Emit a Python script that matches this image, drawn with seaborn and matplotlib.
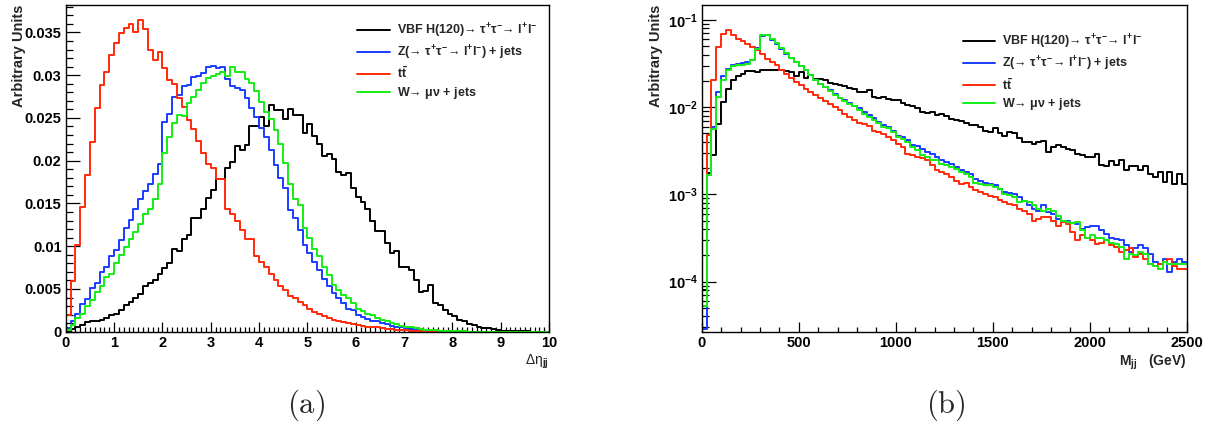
import numpy as np
import pandas as pd
import matplotlib
matplotlib.use('Agg')
import matplotlib.pyplot as plt
from matplotlib.lines import Line2D
from matplotlib.ticker import MultipleLocator, FuncFormatter, LogLocator, NullFormatter
import seaborn as sns

# ---- data (bin contents, arbitrary units) ----
# (a) delta eta_jj : 100 bins of 0.1 from 0 to 10
deta_range = (0, 10)
n_bins = 100

deta_vbf = [
    0.0001, 0.0003, 0.0006, 0.0008, 0.0011, 0.0012, 0.0013, 0.0014, 0.0016, 0.0019,
    0.0021, 0.0025, 0.0031, 0.0035, 0.0040, 0.0044, 0.0053, 0.0057, 0.0061, 0.0068,
    0.0075, 0.0080, 0.0097, 0.0094, 0.0108, 0.0113, 0.0133, 0.0133, 0.0143, 0.0156,
    0.0166, 0.0178, 0.0179, 0.0191, 0.0198, 0.0217, 0.0212, 0.0218, 0.0241, 0.0240,
    0.0251, 0.0241, 0.0265, 0.0259, 0.0259, 0.0249, 0.0261, 0.0253, 0.0253, 0.0232,
    0.0243, 0.0229, 0.0220, 0.0205, 0.0208, 0.0202, 0.0187, 0.0183, 0.0186, 0.0168,
    0.0158, 0.0152, 0.0143, 0.0130, 0.0118, 0.0118, 0.0104, 0.0092, 0.0094, 0.0076,
    0.0076, 0.0072, 0.0061, 0.0046, 0.0048, 0.0055, 0.0034, 0.0031, 0.0025, 0.0021,
    0.0018, 0.0014, 0.0012, 0.0009, 0.0008, 0.0005, 0.0004, 0.0004, 0.0003, 0.0002,
    0.0001, 0.0001, 0.00008, 0.00005, 0.00004, 0.00003, 0.00002, 0.00001, 0.0, 0.0,
]
deta_zjets = [
    0.0004, 0.0012, 0.0021, 0.0032, 0.0038, 0.0051, 0.0057, 0.0070, 0.0076, 0.0088,
    0.0096, 0.0107, 0.0121, 0.0131, 0.0144, 0.0155, 0.0165, 0.0173, 0.0184, 0.0196,
    0.0245, 0.0254, 0.0275, 0.0277, 0.0287, 0.0288, 0.0298, 0.0299, 0.0302, 0.0310,
    0.0311, 0.0308, 0.0310, 0.0296, 0.0287, 0.0285, 0.0283, 0.0273, 0.0262, 0.0251,
    0.0238, 0.0228, 0.0212, 0.0195, 0.0180, 0.0168, 0.0142, 0.0133, 0.0119, 0.0101,
    0.0092, 0.0082, 0.0072, 0.0062, 0.0053, 0.0045, 0.0039, 0.0033, 0.0027, 0.0025,
    0.0019, 0.0017, 0.0015, 0.0013, 0.0012, 0.0010, 0.0009, 0.0007, 0.0006, 0.0005,
    0.0004, 0.0003, 0.00025, 0.0002, 0.00015, 0.0001, 0.00008, 0.00006, 0.00004, 0.00003,
    0.00002, 0.00002, 0.00001, 0.00001, 0.0, 0.0, 0.0, 0.0, 0.0, 0.0,
    0.0, 0.0, 0.0, 0.0, 0.0, 0.0, 0.0, 0.0, 0.0, 0.0,
]
deta_ttbar = [
    0.0020, 0.0059, 0.0101, 0.0146, 0.0183, 0.0222, 0.0262, 0.0288, 0.0304, 0.0324,
    0.0338, 0.0349, 0.0355, 0.0360, 0.0350, 0.0364, 0.0354, 0.0329, 0.0318, 0.0327,
    0.0308, 0.0294, 0.0290, 0.0273, 0.0263, 0.0248, 0.0237, 0.0223, 0.0209, 0.0196,
    0.0192, 0.0178, 0.0178, 0.0144, 0.0138, 0.0129, 0.0119, 0.0108, 0.0108, 0.0088,
    0.0082, 0.0076, 0.0068, 0.0061, 0.0053, 0.0049, 0.0042, 0.0039, 0.0035, 0.0031,
    0.0027, 0.0023, 0.0021, 0.0018, 0.0016, 0.0014, 0.0012, 0.0011, 0.0010, 0.0009,
    0.0008, 0.0007, 0.0006, 0.0005, 0.0005, 0.0004, 0.0003, 0.0003, 0.0002, 0.0002,
    0.00015, 0.0001, 0.0001, 0.00008, 0.00006, 0.00005, 0.00004, 0.00003, 0.00002, 0.00002,
    0.00001, 0.00001, 0.00001, 0.00001, 0.00001, 0.0, 0.0, 0.0, 0.0, 0.0,
    0.0, 0.0, 0.0, 0.0, 0.0, 0.0, 0.0, 0.0, 0.0, 0.0,
]
deta_wjets = [
    0.0002, 0.0008, 0.0016, 0.0021, 0.0030, 0.0037, 0.0047, 0.0053, 0.0064, 0.0068,
    0.0080, 0.0090, 0.0099, 0.0108, 0.0117, 0.0126, 0.0138, 0.0144, 0.0155, 0.0173,
    0.0209, 0.0228, 0.0244, 0.0253, 0.0252, 0.0268, 0.0275, 0.0283, 0.0291, 0.0297,
    0.0299, 0.0301, 0.0304, 0.0299, 0.0310, 0.0304, 0.0304, 0.0295, 0.0291, 0.0281,
    0.0269, 0.0257, 0.0249, 0.0236, 0.0219, 0.0197, 0.0173, 0.0155, 0.0148, 0.0121,
    0.0110, 0.0097, 0.0088, 0.0076, 0.0066, 0.0055, 0.0049, 0.0043, 0.0039, 0.0033,
    0.0027, 0.0024, 0.0021, 0.0019, 0.0016, 0.0014, 0.0012, 0.0010, 0.0009, 0.0007,
    0.0006, 0.0005, 0.0004, 0.0003, 0.00025, 0.0002, 0.00015, 0.0001, 0.00008, 0.00006,
    0.00005, 0.00004, 0.00003, 0.00002, 0.00001, 0.0, 0.0, 0.0, 0.0, 0.0,
    0.0, 0.0, 0.0, 0.0, 0.0, 0.0, 0.0, 0.0, 0.0, 0.0,
]

# (b) M_jj : 100 bins of 25 GeV from 0 to 2500
mjj_range = (0, 2500)

mjj_vbf = [
    0.00008, 0.00175, 0.0028, 0.00645, 0.0115, 0.0163, 0.0203, 0.0226, 0.0242, 0.0257,
    0.0260, 0.0253, 0.0264, 0.0264, 0.0269, 0.0269, 0.0269, 0.0257, 0.0253, 0.0226,
    0.0252, 0.0217, 0.0231, 0.0208, 0.0210, 0.0203, 0.0190, 0.0183, 0.0178, 0.0173,
    0.0167, 0.0160, 0.0150, 0.0149, 0.0156, 0.0131, 0.0128, 0.0131, 0.0125, 0.0122,
    0.0120, 0.0113, 0.0105, 0.0102, 0.0099, 0.0088, 0.0086, 0.0088, 0.0081, 0.0084,
    0.0079, 0.0074, 0.0072, 0.0069, 0.0066, 0.0062, 0.0063, 0.0059, 0.0054, 0.0052,
    0.0057, 0.0051, 0.0047, 0.0052, 0.0050, 0.0044, 0.0040, 0.0040, 0.0038, 0.0040,
    0.0041, 0.0031, 0.0035, 0.0037, 0.0035, 0.0033, 0.0032, 0.0029, 0.0028, 0.0027,
    0.0027, 0.0029, 0.0022, 0.0021, 0.0024, 0.0022, 0.0025, 0.0019, 0.0021, 0.0021,
    0.0019, 0.0021, 0.0017, 0.0016, 0.0018, 0.0014, 0.0018, 0.0013, 0.0017, 0.0013,
]
mjj_zjets = [
    0.000029, 0.00165, 0.0059, 0.0149, 0.0226, 0.0277, 0.0302, 0.0316, 0.0320, 0.0330,
    0.0351, 0.0478, 0.0650, 0.0668, 0.0596, 0.0535, 0.0469, 0.0411, 0.0370, 0.0330,
    0.0294, 0.0264, 0.0231, 0.0205, 0.0186, 0.0170, 0.0156, 0.0140, 0.0129, 0.0120,
    0.0112, 0.0104, 0.0099, 0.0088, 0.0081, 0.0076, 0.0068, 0.0062, 0.0060, 0.0053,
    0.0047, 0.0045, 0.0042, 0.0037, 0.0036, 0.0033, 0.0031, 0.0029, 0.0027, 0.00245,
    0.00234, 0.00224, 0.00205, 0.00192, 0.00180, 0.00172, 0.00151, 0.00144, 0.00134, 0.00130,
    0.00127, 0.00116, 0.00106, 0.00103, 0.00100, 0.00093, 0.00085, 0.00075, 0.00068, 0.00065,
    0.00076, 0.00063, 0.00060, 0.00052, 0.00050, 0.00049, 0.00047, 0.00046, 0.00040, 0.00042,
    0.00043, 0.00044, 0.00039, 0.00035, 0.00032, 0.00031, 0.00030, 0.00026, 0.00022, 0.00024,
    0.00026, 0.00024, 0.00021, 0.00017, 0.00016, 0.00018, 0.00013, 0.00017, 0.00018, 0.00017,
]
mjj_ttbar = [
    0.000053, 0.00474, 0.0203, 0.0490, 0.0697, 0.0774, 0.0667, 0.0611, 0.0574, 0.0535,
    0.0490, 0.0449, 0.0411, 0.0360, 0.0330, 0.0302, 0.0269, 0.0242, 0.0218, 0.0194,
    0.0178, 0.0163, 0.0149, 0.0137, 0.0127, 0.0117, 0.0108, 0.0100, 0.0092, 0.0084,
    0.0077, 0.0071, 0.0066, 0.0064, 0.0061, 0.0054, 0.0052, 0.0049, 0.0045, 0.0042,
    0.0038, 0.0035, 0.0029, 0.0028, 0.0027, 0.0026, 0.0025, 0.0022, 0.0019, 0.00182,
    0.00172, 0.00158, 0.00144, 0.00132, 0.00134, 0.00121, 0.00111, 0.00106, 0.00101, 0.00097,
    0.00093, 0.00087, 0.00081, 0.00078, 0.00075, 0.00068, 0.00065, 0.00060, 0.00050, 0.00052,
    0.00055, 0.00055, 0.00050, 0.00044, 0.00048, 0.00046, 0.00037, 0.00030, 0.00034, 0.00032,
    0.00030, 0.00027, 0.00028, 0.00030, 0.00026, 0.00025, 0.00022, 0.00023, 0.00024, 0.00019,
    0.00021, 0.00018, 0.00016, 0.00015, 0.00016, 0.00017, 0.00018, 0.00015, 0.00014, 0.00014,
]
mjj_wjets = [
    0.000053, 0.00165, 0.0056, 0.0131, 0.0203, 0.0264, 0.0294, 0.0302, 0.0302, 0.0316,
    0.0345, 0.0470, 0.0668, 0.0680, 0.0611, 0.0545, 0.0478, 0.0418, 0.0370, 0.0330,
    0.0294, 0.0264, 0.0231, 0.0203, 0.0184, 0.0168, 0.0154, 0.0139, 0.0127, 0.0118,
    0.0110, 0.0102, 0.0092, 0.0084, 0.0077, 0.0071, 0.0066, 0.0060, 0.0057, 0.0052,
    0.0045, 0.0043, 0.0040, 0.0035, 0.0032, 0.0028, 0.0027, 0.0025, 0.0025, 0.00224,
    0.00215, 0.00205, 0.00197, 0.00180, 0.00172, 0.00160, 0.00134, 0.00132, 0.00129, 0.00127,
    0.00121, 0.00116, 0.00101, 0.00098, 0.00093, 0.00081, 0.00083, 0.00081, 0.00075, 0.00068,
    0.00065, 0.00068, 0.00064, 0.00057, 0.00050, 0.00048, 0.00047, 0.00048, 0.00039, 0.00032,
    0.00034, 0.00032, 0.00032, 0.00030, 0.00028, 0.00027, 0.00025, 0.00018, 0.00021, 0.00020,
    0.00022, 0.00021, 0.00016, 0.00015, 0.00014, 0.00017, 0.00016, 0.00016, 0.00016, 0.00016,
]

sample_labels = [
    'VBF H(120)\u2192 $\\tau^{+}\\tau^{-}$\u2192 l$^{+}$l$^{-}$',
    'Z(\u2192 $\\tau^{+}\\tau^{-}$\u2192 l$^{+}$l$^{-}$) + jets',
    't$\\bar{t}$',
    'W\u2192 $\\mu\\nu$ + jets',
]
sample_colors = ['#000000', '#1a3cff', '#ff2a0a', '#14ee14']

# ---- style ----
sns.set_style('ticks')
plt.rcParams['font.family'] = ['Liberation Sans', 'DejaVu Sans']
plt.rcParams['font.weight'] = 'bold'
plt.rcParams['axes.labelweight'] = 'bold'
plt.rcParams['mathtext.fontset'] = 'custom'
plt.rcParams['mathtext.rm'] = 'Liberation Sans:bold'
plt.rcParams['mathtext.it'] = 'Liberation Sans:bold'
plt.rcParams['mathtext.bf'] = 'Liberation Sans:bold'
plt.rcParams['mathtext.sf'] = 'Liberation Sans:bold'
plt.rcParams['mathtext.default'] = 'rm'

fig = plt.figure(figsize=(12.12, 4.23), dpi=100)
ax_a = fig.add_axes([0.0542, 0.2158, 0.3988, 0.7723])
ax_b = fig.add_axes([0.5790, 0.2158, 0.4002, 0.7723])


def draw_hists(ax, brange, series):
    edges = np.linspace(brange[0], brange[1], n_bins + 1)
    centers = 0.5 * (edges[:-1] + edges[1:])
    for vals, col in zip(series, sample_colors):
        df = pd.DataFrame({'x': centers, 'w': vals})
        sns.histplot(data=df, x='x', weights='w', bins=n_bins, binrange=brange,
                     element='step', fill=False, color=col, linewidth=1.4, ax=ax)


def style_axes(ax):
    for s in ax.spines.values():
        s.set_color('black')
        s.set_linewidth(1.0)
    ax.tick_params(axis='both', which='both', direction='in', top=False, right=False,
                   labelsize=10.5, width=0.9, colors='black')
    ax.tick_params(axis='y', which='major', length=10, pad=3)
    ax.tick_params(axis='y', which='minor', length=5)
    ax.tick_params(axis='x', which='major', length=7, pad=3)
    ax.tick_params(axis='x', which='minor', length=3.5)
    ax.set_ylabel('Arbitrary Units', loc='top', fontsize=10.5)
    ax.set_facecolor('white')


draw_hists(ax_a, deta_range, [deta_vbf, deta_zjets, deta_ttbar, deta_wjets])
draw_hists(ax_b, mjj_range, [mjj_vbf, mjj_zjets, mjj_ttbar, mjj_wjets])

# panel (a)
style_axes(ax_a)
ax_a.set_xlim(0, 10)
ax_a.set_ylim(0, 0.0382)
ax_a.xaxis.set_major_locator(MultipleLocator(1))
ax_a.xaxis.set_minor_locator(MultipleLocator(0.1))
ax_a.yaxis.set_major_locator(MultipleLocator(0.005))
ax_a.yaxis.set_minor_locator(MultipleLocator(0.001))
ax_a.yaxis.set_major_formatter(FuncFormatter(lambda v, p: f'{v:g}'))
ax_a.set_xlabel('\u0394\u03b7$_{jj}$', loc='right', fontsize=10, fontweight='normal',
                labelpad=2)
ax_a.yaxis.set_label_coords(-0.082, 1.0)

# panel (b)
ax_b.set_yscale('log')
style_axes(ax_b)
ax_b.set_xlim(0, 2500)
ax_b.set_ylim(2.67e-5, 0.148)
ax_b.xaxis.set_major_locator(MultipleLocator(500))
ax_b.xaxis.set_minor_locator(MultipleLocator(100))
ax_b.yaxis.set_major_locator(LogLocator(base=10))
ax_b.yaxis.set_minor_locator(LogLocator(base=10, subs=np.arange(2, 10)))
ax_b.yaxis.set_minor_formatter(NullFormatter())
ax_b.set_xlabel('M$_{jj}$   (GeV)', loc='right', fontsize=10, labelpad=2)
ax_b.yaxis.set_label_coords(-0.080, 1.0)

# legends
for ax, anchor in [(ax_a, (0.603, 0.95)), (ax_b, (0.538, 0.915))]:
    handles = [Line2D([], [], color=c, lw=1.4) for c in sample_colors]
    ax.legend(handles, sample_labels, loc='upper left', bbox_to_anchor=anchor,
              frameon=False, fontsize=9, handlelength=2.6, handletextpad=0.55,
              labelspacing=0.3, borderpad=0, borderaxespad=0)

# captions
fig.text(0.2525, 0.043, '$\\mathrm{(a)}$', math_fontfamily='cm', fontsize=22,
         ha='center', va='center', fontweight='normal')
fig.text(0.7805, 0.043, '$\\mathrm{(b)}$', math_fontfamily='cm', fontsize=22,
         ha='center', va='center', fontweight='normal')

fig.savefig('out.png', dpi=100, facecolor='white')
